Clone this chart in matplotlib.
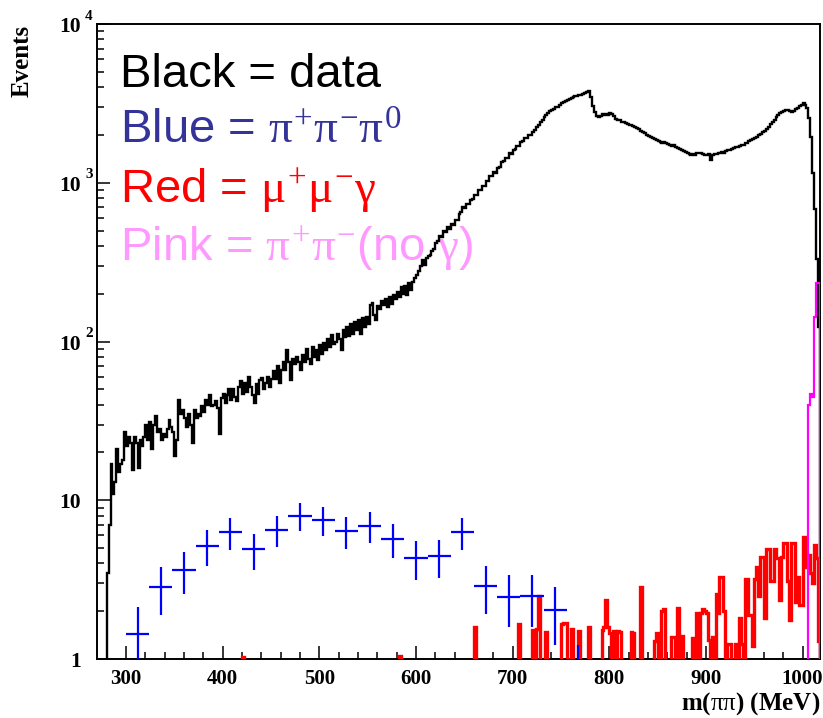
import numpy as np
import matplotlib
matplotlib.use("Agg")
import matplotlib.pyplot as plt
from matplotlib.ticker import FixedLocator, NullFormatter

plt.rcParams['mathtext.fontset'] = 'custom'
plt.rcParams['mathtext.rm'] = 'Liberation Serif'
plt.rcParams['mathtext.it'] = 'Liberation Serif'
plt.rcParams['mathtext.bf'] = 'Liberation Serif:bold'

# data: 2 MeV bins starting at 280 MeV
data_start = 280.0
bin_w = 2.0
data_counts = [
    3.5, 7, 17, 11, 13, 21, 15, 17, 18, 27,
    22, 25, 23, 15.5, 25, 23, 16, 24, 22, 25,
    30, 24, 31, 21, 30, 34, 27, 28, 24, 26,
    25, 28, 32, 29, 27, 19, 24, 43, 35, 37,
    33, 29, 35, 30, 23, 37, 33, 35, 34, 39,
    36, 43, 40, 46, 39, 40, 42, 38, 26, 44,
    47, 41, 46, 50, 43, 50, 45, 42, 52, 56,
    47, 55, 48, 60, 52, 46, 41, 54, 47, 57,
    59, 50, 55, 60, 52, 58, 65, 58, 70, 55,
    66, 74, 66, 88, 74, 57, 78, 72, 80, 74,
    66, 82, 74, 90, 78, 72, 92, 80, 88, 76,
    95, 84, 98, 88, 104, 92, 110, 96, 100, 112,
    104, 88, 118, 106, 124, 108, 128, 112, 132, 118,
    136, 112, 140, 124, 142, 128, 170, 176, 146, 136,
    168, 160, 180, 170, 186, 166, 190, 172, 196, 184,
    206, 190, 220, 200, 224, 196, 232, 212, 238, 250,
    262, 280, 300, 325, 305, 335, 345, 350, 372, 385,
    420, 428, 462, 455, 495, 490, 525, 515, 550, 545,
    585, 580, 640, 650, 700, 690, 735, 730, 780, 790,
    840, 835, 895, 900, 955, 950, 1020, 1030, 1095, 1100,
    1165, 1160, 1230, 1250, 1350, 1370, 1440, 1440, 1530, 1520,
    1610, 1620, 1700, 1710, 1800, 1820, 1900, 1900, 2000, 2010,
    2080, 2150, 2250, 2320, 2400, 2500, 2600, 2660, 2740, 2830,
    2880, 2930, 2980, 3020, 3080, 3160, 3240, 3290, 3330, 3380,
    3420, 3460, 3500, 3530, 3560, 3590, 3630, 3680, 3720, 3760,
    3450, 3050, 2780, 2650, 2580, 2620, 2700, 2660, 2720, 2690,
    2740, 2700, 2650, 2520, 2470, 2500, 2430, 2400, 2370, 2340,
    2320, 2300, 2290, 2240, 2200, 2170, 2130, 2090, 2050, 2010,
    1970, 1950, 1920, 1890, 1860, 1830, 1810, 1790, 1800, 1770,
    1750, 1720, 1700, 1720, 1680, 1660, 1640, 1600, 1580, 1560,
    1540, 1510, 1500, 1520, 1500, 1530, 1540, 1530, 1510, 1500,
    1490, 1510, 1400, 1500, 1520, 1510, 1530, 1540, 1560, 1550,
    1580, 1600, 1610, 1630, 1650, 1680, 1670, 1700, 1720, 1740,
    1770, 1790, 1820, 1850, 1880, 1910, 1950, 1990, 2030, 2080,
    2130, 2190, 2250, 2330, 2420, 2500, 2590, 2660, 2740, 2780,
    2830, 2860, 2880, 2820, 2780, 2850, 2900, 2960, 3040, 3100,
    3160, 3100, 2950, 2550, 1950, 1150, 680, 330, 123,
]

# pi+ pi- pi0 background (24 MeV bins)
blue_x = [312, 336, 360, 384, 408, 432, 456, 480, 504, 528,
          552, 576, 600, 624, 648, 672, 696, 720, 744, 768]
blue_y = [1.44, 2.85, 3.63, 5.16, 6.3, 4.9, 6.5, 8.0, 7.5, 6.4,
          6.9, 5.7, 4.35, 4.45, 6.3, 2.88, 2.47, 2.5, 2.03, 0.65]
blue_err = [0.69, 0.95, 1.08, 1.29, 1.43, 1.26, 1.45, 1.61, 1.56, 1.44,
            1.5, 1.36, 1.19, 1.2, 1.43, 0.96, 0.89, 0.9, 0.81, 0.57]
blue_halfw = 12

# mu+ mu- gamma: non-empty bins (left edge, content)
red_bins = [420, 582, 660, 706, 720, 724, 726, 734, 750, 752,
            754, 760, 768, 778, 792, 794, 796, 798, 800, 804,
            808, 810, 822, 824, 832, 846, 848, 854, 856, 864,
            866, 870, 874, 886, 890, 894, 896, 898, 900, 902,
            906, 910, 912, 914, 916, 918, 922, 924, 930, 934,
            936, 940, 942, 944, 946, 948, 950, 952, 954, 956,
            958, 960, 962, 964, 966, 968, 970, 972, 974, 976,
            978, 980, 982, 984, 986, 988, 990, 992, 994, 996,
            998, 1000, 1002, 1004, 1006, 1008, 1010, 1012, 1014, 1016]
red_vals = [1.03, 1.05, 1.6, 1.65, 1.52, 1.55, 2.5, 1.49, 1.65, 1.68,
            1.68, 1.54, 1.5, 1.6, 1.52, 1.6, 2.35, 1.6, 1.45, 1.5,
            1.5, 1.48, 1.47, 1.45, 2.85, 1.3, 1.45, 2.0, 2.06, 1.38,
            1.38, 2.1, 1.4, 1.35, 1.94, 1.96, 2.06, 2.0, 1.95, 1.32,
            1.38, 2.55, 1.94, 3.3, 3.3, 2.0, 1.25, 1.25, 1.25, 1.8,
            1.25, 3.2, 3.2, 1.9, 1.9, 1.2, 3.2, 3.8, 2.5, 4.4,
            4.4, 1.8, 4.9, 4.9, 3.1, 3.1, 4.9, 4.3, 4.3, 2.35,
            4.4, 5.4, 5.4, 3.1, 1.76, 5.4, 5.4, 2.3, 3.3, 2.2,
            2.2, 5.9, 3.8, 3.8, 4.5, 3.5, 3.0, 5.2, 4.3, 1.3]

# pi+ pi- (no gamma)
pink_bins = [1006, 1008, 1010, 1012, 1014, 1016]
pink_vals = [40, 47, 45, 143, 234, 234]

W, H = 823, 718
fig = plt.figure(figsize=(W / 100, H / 100), dpi=100)
ax = fig.add_axes([97 / W, 1 - 659 / H, (820 - 97) / W, (659 - 24) / H])

edges = data_start + bin_w * np.arange(len(data_counts) + 1)
floor = 1e-3

red_full = np.zeros(len(data_counts))
red_full[((np.array(red_bins) - data_start) / bin_w).astype(int)] = red_vals
red_full = np.where(red_full > 0, red_full, floor)

pink_edges = np.append(pink_bins, pink_bins[-1] + bin_w)

ax.stairs(data_counts, edges, baseline=floor, color='black', lw=1.7, zorder=3)
ax.stairs(red_full, edges, baseline=floor, color='#ff0000', lw=2.4, zorder=4)
ax.errorbar(blue_x, blue_y, xerr=blue_halfw, yerr=blue_err, fmt='none',
            ecolor='#0000ff', elinewidth=1.6, capsize=0, zorder=5)
ax.stairs(pink_vals, pink_edges, baseline=floor, color='#ff00ff', lw=1.6, zorder=6)

ax.set_yscale('log')
ax.set_xlim(270, 1018)
ax.set_ylim(1, 1e4)

for s in ax.spines.values():
    s.set_linewidth(1.4)

ax.xaxis.set_major_locator(FixedLocator(np.arange(300, 1001, 100)))
ax.xaxis.set_minor_locator(FixedLocator(np.arange(280, 1001, 20)))
ax.yaxis.set_major_locator(FixedLocator([1, 10, 100, 1000, 10000]))
ax.yaxis.set_minor_locator(FixedLocator([m * 10 ** d for d in range(4) for m in range(2, 10)]))
ax.yaxis.set_major_formatter(NullFormatter())
ax.yaxis.set_minor_formatter(NullFormatter())
ax.tick_params(which='both', direction='in', top=False, right=False, width=1.1)
ax.tick_params(which='major', length=9.5)
ax.tick_params(which='minor', length=5)
ax.tick_params(axis='x', which='major', pad=7)
for lab in ax.get_xticklabels():
    lab.set_family('Liberation Serif')
    lab.set_fontweight('bold')
    lab.set_fontsize(15)

# decade labels drawn as "10" plus a raised exponent
ylab_font = dict(family='Liberation Serif', weight='bold')
xr = 81 / W
for val, exp in [(1, None), (10, None), (100, '2'), (1000, '3'), (10000, '4')]:
    yf = ax.transData.transform((300, val))[1] / H
    base = '1' if val == 1 else '10'
    fig.text(xr, yf - 3 / H, base, ha='right', va='center', fontsize=15.5, **ylab_font)
    if exp:
        fig.text(xr + 4 / W, yf + 8 / H, exp, ha='left', va='center', fontsize=11, **ylab_font)

fig.text(22 / W, 1 - 25 / H, 'Events', rotation=90, ha='center', va='top',
         fontsize=18, **ylab_font)
fig.text(820 / W, 1 - 710 / H, r'm($\pi\pi$) (MeV)', ha='right', va='baseline',
         fontsize=18, **ylab_font)

# colour key
key = [
    ('Black = data', 'black', 87),
    (r'Blue = $\pi^{+}\pi^{-}\pi^{0}$', '#333399', 144),
    (r'Red = $\mu^{+}\mu^{-}\gamma$', '#ff0000', 203),
    (r'Pink = $\pi^{+}\pi^{-}$(no $\gamma$)', '#ff99ff', 261),
]
for txt, col, yb in key:
    ax.text(120 / W, 1 - yb / H, txt, transform=fig.transFigure, color=col,
            family='Liberation Sans', fontsize=34, ha='left', va='baseline', zorder=1)

fig.savefig('out.png', dpi=100)
